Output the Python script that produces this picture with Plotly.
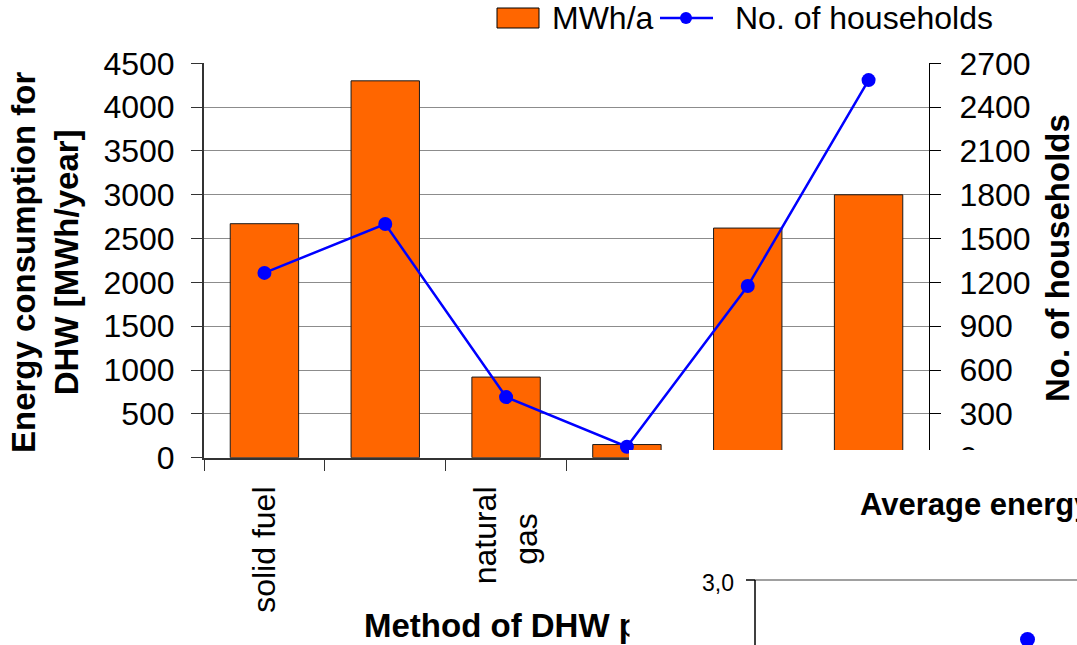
import plotly.graph_objects as go

W, H = 1077, 645

# ---------------- data ----------------
categories = ["solid fuel", "electricity", "natural gas", "LPG", "district heating", "other"]
tick_text = ["solid fuel", "", "natural<br>gas\u00a0\u00a0\u00a0", "", "", ""]
mwh_per_year = [2670, 4300, 920, 150, 2620, 3000]
households = [1265, 1600, 415, 75, 1175, 2585]
bar_name = "MWh/a"
line_name = "No. of households"
left_title = "Energy consumption for<br>DHW [MWh/year]"
right_title = "No. of households"
x_title = "Method of DHW p"
inset_title = "Average energy"
inset_tick = "3,0"

FONT = "Liberation Sans, Arial, sans-serif"
ORANGE = "#FF6600"
BLUE = "#0000FF"


def px(x):
    return x / W


def py(y):
    return 1 - y / H


fig = go.Figure()
fig.add_trace(go.Bar(
    x=categories, y=mwh_per_year, name=bar_name,
    marker=dict(color=ORANGE, line=dict(color="#1a1a1a", width=1)),
    xaxis="x", yaxis="y", showlegend=False,
))
fig.add_trace(go.Scatter(
    x=categories, y=households, name=line_name, mode="lines+markers",
    line=dict(color=BLUE, width=2.5), marker=dict(size=14, color=BLUE),
    xaxis="x", yaxis="y2", cliponaxis=False, showlegend=False,
))

tickfont = dict(family=FONT, size=32, color="black")

fig.update_layout(
    width=W, height=H, autosize=False,
    margin=dict(l=0, r=0, t=0, b=0, pad=0, autoexpand=False),
    paper_bgcolor="white", plot_bgcolor="white",
    bargap=0.434,
    showlegend=False,
    xaxis=dict(
        domain=[204 / W, 929 / W], type="category", range=[-0.5, 5.5],
        tickmode="array", tickvals=categories, ticktext=tick_text,
        tickson="boundaries", ticks="outside", ticklen=11, tickwidth=1, tickcolor="#333",
        tickangle=-90, tickfont=tickfont, ticklabelstandoff=14,
        showline=True, linecolor="#333", linewidth=2, showgrid=False,
        anchor="y", automargin=False,
    ),
    xaxis2=dict(
        overlaying="x", anchor="y", range=[-0.5, 5.5], tickmode="linear", tick0=-0.5, dtick=1,
        ticks="inside", ticklen=10, tickwidth=1, tickcolor="#333",
        showticklabels=False, showgrid=False, showline=False, zeroline=False, automargin=False,
    ),
    yaxis=dict(
        domain=[1 - 457.7 / H, 1 - 63.3 / H], range=[0, 4500], tick0=0, dtick=500,
        ticks="outside", ticklen=11, tickwidth=1, tickcolor="#333",
        tickfont=tickfont, ticklabelstandoff=10,
        showline=True, linecolor="#333", linewidth=2,
        showgrid=True, gridcolor="#8c8c8c", gridwidth=1, zeroline=False,
        anchor="x", automargin=False,
    ),
    yaxis2=dict(
        overlaying="y", side="right", anchor="x", range=[0, 2700], tick0=0, dtick=300,
        ticks="outside", ticklen=11, tickwidth=1, tickcolor="black",
        tickfont=tickfont, ticklabelstandoff=12,
        showline=True, linecolor="black", linewidth=1, showgrid=False, zeroline=False,
        automargin=False,
    ),
    yaxis3=dict(
        overlaying="y", side="left", anchor="x", range=[0, 4500], tick0=0, dtick=500,
        ticks="inside", ticklen=10, tickwidth=1, tickcolor="#333",
        showticklabels=False, showgrid=False, showline=False, zeroline=False, automargin=False,
    ),
    yaxis4=dict(
        overlaying="y", side="right", anchor="x", range=[0, 2700], tick0=0, dtick=300,
        ticks="inside", ticklen=11, tickwidth=1, tickcolor="black",
        showticklabels=False, showgrid=False, showline=False, zeroline=False, automargin=False,
    ),
)

shapes = [
    # overlapping second chart (white panel)
    dict(type="rect", xref="paper", yref="paper", x0=px(629), x1=px(1090), y0=py(660), y1=py(450),
         fillcolor="white", line=dict(width=0), layer="above"),
    # inset gridline / axis / tick
    dict(type="line", xref="paper", yref="paper", x0=px(755), x1=px(1090), y0=py(580), y1=py(580),
         line=dict(color="#a0a0a0", width=2), layer="above"),
    dict(type="line", xref="paper", yref="paper", x0=px(755), x1=px(755), y0=py(580), y1=py(660),
         line=dict(color="black", width=1.5), layer="above"),
    dict(type="line", xref="paper", yref="paper", x0=px(746), x1=px(755), y0=py(580), y1=py(580),
         line=dict(color="black", width=1.5), layer="above"),
    dict(type="circle", xref="paper", yref="paper", x0=px(1020), x1=px(1035), y0=py(647), y1=py(632),
         fillcolor=BLUE, line=dict(width=0), layer="above"),
    # legend symbols
    dict(type="rect", xref="paper", yref="paper", x0=px(497), x1=px(539), y0=py(28), y1=py(8),
         fillcolor=ORANGE, line=dict(color="black", width=1), layer="above"),
    dict(type="line", xref="paper", yref="paper", x0=px(660), x1=px(713), y0=py(18), y1=py(18),
         line=dict(color=BLUE, width=2.5), layer="above"),
    dict(type="circle", xref="paper", yref="paper", x0=px(680), x1=px(692), y0=py(24), y1=py(12),
         fillcolor=BLUE, line=dict(width=0), layer="above"),
]

bold = dict(family=FONT, size=33, color="black", weight="bold")
annotations = [
    dict(text=left_title, x=px(45), y=py(262), xref="paper", yref="paper", textangle=-90,
         showarrow=False, font=bold, xanchor="center", yanchor="middle", align="center"),
    dict(text=right_title, x=px(1057), y=py(258), xref="paper", yref="paper", textangle=-90,
         showarrow=False, font=bold, xanchor="center", yanchor="middle"),
    dict(text=x_title, x=px(362), y=py(625), xref="paper", yref="paper",
         showarrow=False, font=bold, xanchor="left", yanchor="middle"),
    # white piece of the overlapping chart that cuts the axis title
    dict(text=" ", x=px(629), y=py(645), xref="paper", yref="paper", showarrow=False,
         xanchor="left", yanchor="bottom", width=70, height=52, bgcolor="white", borderpad=0),
    dict(text=bar_name, x=px(550), y=py(18), xref="paper", yref="paper", showarrow=False,
         font=dict(family=FONT, size=32, color="black"), xanchor="left", yanchor="middle"),
    dict(text=line_name, x=px(733), y=py(18), xref="paper", yref="paper", showarrow=False,
         font=dict(family=FONT, size=32, color="black"), xanchor="left", yanchor="middle"),
    dict(text=inset_title, x=px(858), y=py(505), xref="paper", yref="paper", showarrow=False,
         font=dict(family=FONT, size=31, color="black", weight="bold"), xanchor="left", yanchor="middle"),
    dict(text=inset_tick, x=px(736), y=py(583), xref="paper", yref="paper", showarrow=False,
         font=dict(family=FONT, size=23, color="black"), xanchor="right", yanchor="middle"),
]

fig.update_layout(shapes=shapes, annotations=annotations)
fig.write_html("out.html")
